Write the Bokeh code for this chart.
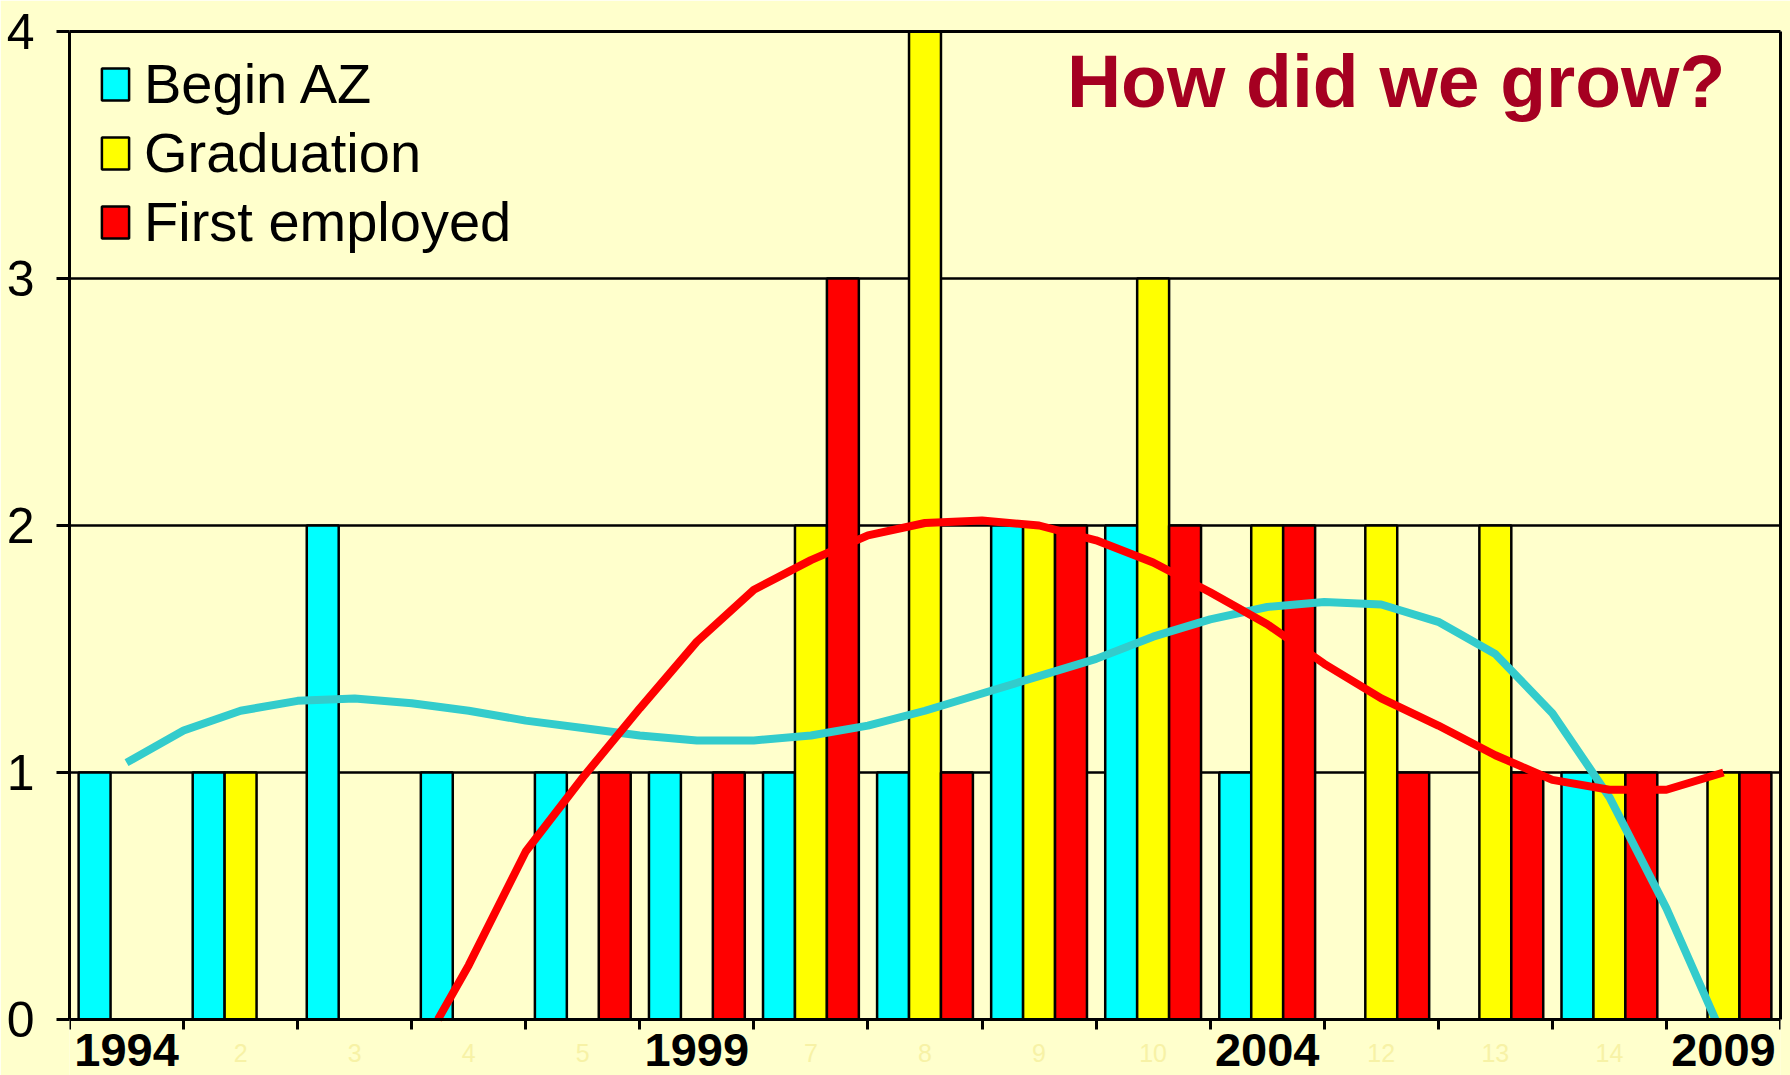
from bokeh.plotting import figure
from bokeh.models import ColumnDataSource, FixedTicker, Label, Range1d, LinearAxis
from bokeh.transform import dodge
from bokeh.embed import file_html
from bokeh.resources import INLINE

# ---------------- data ----------------
tick_labels = ["1994", "2", "3", "4", "5", "1999", "7", "8", "9", "10",
               "2004", "12", "13", "14", "2009"]
year_labels = ["1994", "1999", "2004", "2009"]
begin_az = [1, 1, 2, 1, 1, 1, 1, 1, 2, 2, 1, 0, 0, 1, 0]
graduation = [0, 1, 0, 0, 0, 0, 2, 4, 2, 3, 2, 2, 2, 1, 1]
first_employed = [0, 0, 0, 0, 1, 1, 3, 1, 2, 2, 2, 1, 1, 1, 1]

begin_trend_x = [1, 1.5, 2, 2.5, 3, 3.5, 4, 4.5, 5, 5.5, 6, 6.5, 7, 7.5, 8,
                 8.5, 9, 9.5, 10, 10.5, 11, 11.5, 12, 12.5, 13, 13.5, 14,
                 14.5, 14.93]
begin_trend_y = [1.04, 1.17, 1.25, 1.29, 1.30, 1.28, 1.25, 1.21, 1.18, 1.15,
                 1.13, 1.13, 1.15, 1.19, 1.25, 1.32, 1.39, 1.46, 1.55, 1.62,
                 1.67, 1.69, 1.68, 1.61, 1.48, 1.24, 0.90, 0.45, 0.0]
emp_trend_x = [3.73, 4, 4.5, 5, 5.5, 6, 6.5, 7, 7.5, 8, 8.5, 9, 9.5, 10,
               10.5, 11, 11.5, 12, 12.5, 13, 13.5, 14, 14.5, 15]
emp_trend_y = [0.0, 0.22, 0.68, 0.98, 1.26, 1.53, 1.74, 1.86, 1.96, 2.01,
               2.02, 2.0, 1.94, 1.85, 1.73, 1.60, 1.44, 1.30, 1.19, 1.07,
               0.97, 0.93, 0.93, 1.0]
y_ticks = [0, 1, 2, 3, 4]

# ---------------- layout ----------------
BG = "#FFFFCC"
FONT = "Liberation Sans"
W, H = 1790, 1075
TOP, BOTTOM_STRIP = 31, 56           # px above the 4-line / below the 0-line
ymax = y_ticks[-1]
px_per_unit = (H - TOP - BOTTOM_STRIP) / ymax
ymin = -BOTTOM_STRIP / px_per_unit   # frame reaches down into the label strip

n = len(tick_labels)
xs = list(range(1, n + 1))
src = ColumnDataSource(dict(x=xs, begin=begin_az, grad=graduation,
                            emp=first_employed))

p = figure(width=W, height=H, output_backend="svg", toolbar_location=None,
           x_range=Range1d(0.5, n + 0.5), y_range=Range1d(ymin, ymax),
           min_border_left=69, min_border_right=10, min_border_top=TOP,
           min_border_bottom=0, x_axis_location=None)
p.background_fill_color = BG
p.border_fill_color = BG
p.outline_line_color = None

bw = 0.28
p.vbar(x=dodge("x", -bw, range=p.x_range), top="begin", width=bw, source=src,
       fill_color="#00FFFF", line_color="black", line_width=2.5,
       legend_label="Begin AZ")
p.vbar(x=dodge("x", 0, range=p.x_range), top="grad", width=bw, source=src,
       fill_color="#FFFF00", line_color="black", line_width=2.5,
       legend_label="Graduation")
p.vbar(x=dodge("x", bw, range=p.x_range), top="emp", width=bw, source=src,
       fill_color="#FF0000", line_color="black", line_width=2.5,
       legend_label="First employed")

p.line(begin_trend_x, begin_trend_y, line_color="#33CCCC", line_width=8)
p.line(emp_trend_x, emp_trend_y, line_color="#FF0000", line_width=8)

# grid
p.xgrid.visible = False
p.ygrid.ticker = FixedTicker(ticks=y_ticks[1:])
p.ygrid.grid_line_color = "black"
p.ygrid.grid_line_width = 2.5

# y axis (line limited to 0..4)
p.yaxis.ticker = FixedTicker(ticks=y_ticks)
p.yaxis.bounds = (0, ymax)
p.yaxis.major_label_text_font_size = "50px"
p.yaxis.major_label_text_font = FONT
p.yaxis.major_label_text_color = "black"
p.yaxis.major_tick_out = 13
p.yaxis.major_tick_in = 0
p.yaxis.major_tick_line_width = 3
p.yaxis.axis_line_width = 3
p.yaxis.major_label_standoff = 22
p.yaxis.minor_tick_line_color = None

# frame border on the right and at the top
right = LinearAxis(bounds=(0, ymax), ticker=FixedTicker(ticks=[]),
                   axis_line_width=3, major_tick_line_color=None,
                   minor_tick_line_color=None, major_label_text_font_size="1px")
p.add_layout(right, "right")
top = LinearAxis(ticker=FixedTicker(ticks=[]), axis_line_width=3,
                 major_tick_line_color=None, minor_tick_line_color=None,
                 major_label_text_font_size="1px")
p.add_layout(top, "above")

# x axis pinned at y = 0: tick marks on the category boundaries
bounds = [i + 0.5 for i in range(0, n + 1)]
xaxis = LinearAxis(ticker=FixedTicker(ticks=bounds), fixed_location=0,
                   major_label_overrides={b: "" for b in bounds},
                   major_label_text_font_size="1px", major_tick_out=10,
                   major_tick_in=0, major_tick_line_width=3,
                   axis_line_width=3, minor_tick_line_color=None)
p.add_layout(xaxis, "below")

# category labels: label-only axes pinned to y = 0
yr_pos = [xs[i] for i, t in enumerate(tick_labels) if t in year_labels]
ot_pos = [xs[i] for i, t in enumerate(tick_labels) if t not in year_labels]


def label_axis(pos, size, style, color, standoff):
    ax = LinearAxis(ticker=FixedTicker(ticks=pos), fixed_location=0,
                    major_label_overrides={x: tick_labels[x - 1] for x in pos},
                    axis_line_color=None, major_tick_line_color=None,
                    minor_tick_line_color=None, major_tick_out=0,
                    major_tick_in=0, major_label_standoff=standoff,
                    major_label_text_font=FONT,
                    major_label_text_font_size=size,
                    major_label_text_font_style=style,
                    major_label_text_color=color)
    p.add_layout(ax, "below")


label_axis(yr_pos, "47px", "bold", "black", 14)
label_axis(ot_pos, "25px", "normal", "#F7F2A6", 24)

# title inside plot
p.add_layout(Label(x=12.13, y=3.80, text="How did we grow?",
                   text_font=FONT, text_font_size="75px",
                   text_font_style="bold", text_color="#A50021",
                   text_align="center", text_baseline="alphabetic"))

# legend
lg = p.legend[0]
lg.location = (29, 765 + BOTTOM_STRIP)
lg.margin = 0
lg.padding = 0
lg.border_line_color = None
lg.background_fill_alpha = 0
lg.label_text_font = FONT
lg.label_text_font_size = "56px"
lg.label_text_color = "black"
lg.glyph_width = 34
lg.glyph_height = 40
lg.label_standoff = 12
lg.spacing = 4
lg.label_height = 40

open("out.html", "w").write(file_html(p, INLINE))
